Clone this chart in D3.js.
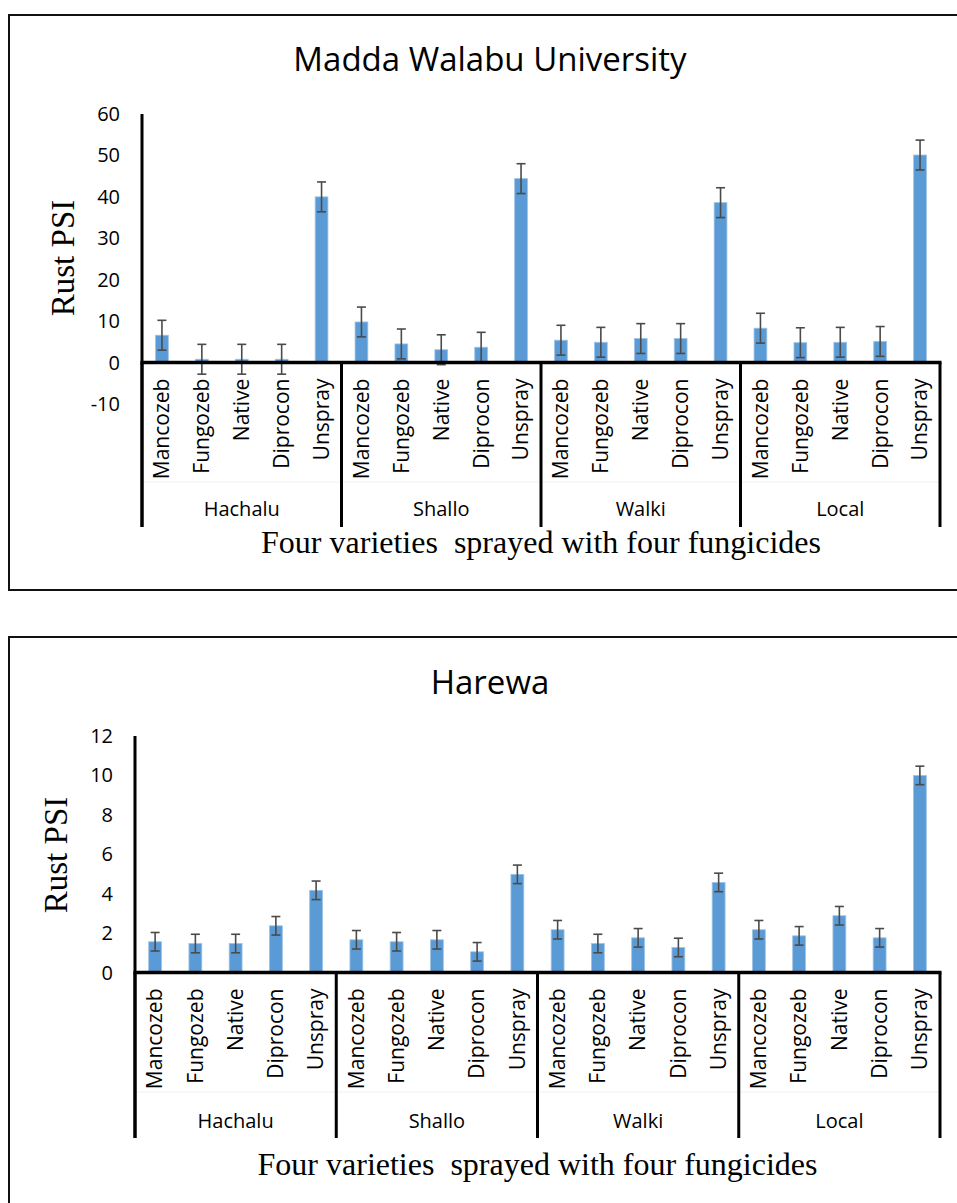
<!DOCTYPE html>
<html>
<head>
<meta charset="utf-8">
<script src="https://cdn.jsdelivr.net/npm/d3@7"></script>
<style>
  body { margin: 0; background: #fff; }
  svg { display: block; }
</style>
</head>
<body>
<script>
// Data
const varieties = ['Hachalu', 'Shallo', 'Walki', 'Local'];
const fungicides = ['Mancozeb', 'Fungozeb', 'Native', 'Diprocon', 'Unspray'];

// Madda Walabu University, one row per variety
const mwuValues = [
    [6.6, 0.8, 0.8, 0.8, 40.0],
    [9.8, 4.5, 3.1, 3.7, 44.4],
    [5.4, 4.9, 5.8, 5.8, 38.6],
    [8.3, 4.8, 4.9, 5.1, 50.1]
];
const mwuErrors = [
    [3.6, 3.6, 3.6, 3.6, 3.6],
    [3.6, 3.6, 3.6, 3.6, 3.6],
    [3.6, 3.6, 3.6, 3.6, 3.6],
    [3.6, 3.6, 3.6, 3.6, 3.6]
];
const mwuTicks = [-10, 0, 10, 20, 30, 40, 50, 60];

// Harewa
const harValues = [
    [1.56, 1.47, 1.47, 2.37, 4.17],
    [1.66, 1.56, 1.66, 1.05, 4.98],
    [2.17, 1.47, 1.76, 1.27, 4.57],
    [2.17, 1.86, 2.88, 1.76, 10.0]
];
const harErrors = [
    [0.47, 0.47, 0.47, 0.47, 0.47],
    [0.47, 0.47, 0.47, 0.47, 0.47],
    [0.47, 0.47, 0.47, 0.47, 0.47],
    [0.47, 0.47, 0.47, 0.47, 0.47]
];
const harTicks = [0, 2, 4, 6, 8, 10, 12];

const xTitle = 'Four varieties  sprayed with four fungicides';
const yTitle = 'Rust PSI';

const W = 957, H = 1203;
const barColor = '#5b9bd5';
const errColor = '#4a4a4a';
const sans = '"Open Sans", sans-serif';
const serif = '"Liberation Serif", "Times New Roman", serif';

const svg = d3.select('body').append('svg')
    .attr('width', W)
    .attr('height', H);

function drawPanel(p) {
    const g = svg.append('g');

    // frame
    g.append('rect')
        .attr('x', p.frame[0]).attr('y', p.frame[1])
        .attr('width', p.frame[2]).attr('height', p.frame[3])
        .attr('fill', 'none')
        .attr('stroke', '#111')
        .attr('stroke-width', 2);

    const rows = [];
    varieties.forEach((v, i) => {
        fungicides.forEach((f, j) => {
            rows.push({ key: v + '|' + f, variety: v, fungicide: f,
                        value: p.values[i][j], err: p.errors[i][j] });
        });
    });

    const x = d3.scaleBand()
        .domain(rows.map(d => d.key))
        .range([p.left, p.right])
        .paddingInner(0.68)
        .paddingOuter(0.34);
    const xg = d3.scaleBand()
        .domain(varieties)
        .range([p.left, p.right]);
    const y = d3.scaleLinear()
        .domain(p.domain)
        .range([p.yBottom, p.yTop]);
    const y0 = y(0);

    // title
    g.append('text')
        .attr('x', 490).attr('y', p.titleY)
        .attr('text-anchor', 'middle')
        .attr('font-family', sans)
        .attr('font-size', 33)
        .attr('fill', '#000')
        .text(p.title);

    // y tick labels
    g.selectAll('.ytick')
        .data(p.ticks)
        .enter().append('text')
        .attr('class', 'ytick')
        .attr('x', p.left - 22)
        .attr('y', d => y(d))
        .attr('dy', '0.35em')
        .attr('text-anchor', 'end')
        .attr('font-family', sans)
        .attr('font-size', 20)
        .attr('fill', '#000')
        .text(d => d);

    // y axis title
    g.append('text')
        .attr('transform', `translate(${p.left - 68}, ${p.yTitleY}) rotate(-90)`)
        .attr('text-anchor', 'middle')
        .attr('font-family', serif)
        .attr('font-size', 33)
        .attr('fill', '#000')
        .text(yTitle);

    // bars
    g.selectAll('.bar')
        .data(rows)
        .enter().append('rect')
        .attr('class', 'bar')
        .attr('x', d => x(d.key))
        .attr('y', d => y(Math.max(0, d.value)))
        .attr('width', x.bandwidth())
        .attr('height', d => Math.abs(y(d.value) - y0))
        .attr('fill', barColor)
        .attr('stroke', '#9dc3e6')
        .attr('stroke-width', 0.8);

    // error bars
    const cx = d => x(d.key) + x.bandwidth() / 2;
    const eb = g.selectAll('.err')
        .data(rows)
        .enter().append('g')
        .attr('class', 'err')
        .attr('stroke', errColor)
        .attr('stroke-width', 1.6);
    eb.append('line')
        .attr('x1', cx).attr('x2', cx)
        .attr('y1', d => y(d.value + d.err))
        .attr('y2', d => y(d.value - d.err));
    [1, -1].forEach(s => {
        eb.append('line')
            .attr('x1', d => cx(d) - 4.5).attr('x2', d => cx(d) + 4.5)
            .attr('y1', d => y(d.value + s * d.err))
            .attr('y2', d => y(d.value + s * d.err));
    });

    // category labels (rotated)
    g.selectAll('.cat')
        .data(rows)
        .enter().append('text')
        .attr('class', 'cat')
        .attr('transform', d => `translate(${cx(d)}, ${y0 + 16}) rotate(-90)`)
        .attr('dy', '0.35em')
        .attr('text-anchor', 'end')
        .attr('font-family', sans)
        .attr('font-size', 21)
        .attr('fill', '#000')
        .text(d => d.fungicide);

    // faint divider between label levels
    g.append('line')
        .attr('x1', p.left).attr('x2', p.right)
        .attr('y1', p.divY).attr('y2', p.divY)
        .attr('stroke', '#f0f0f0')
        .attr('stroke-width', 1);

    // group labels
    g.selectAll('.grp')
        .data(varieties)
        .enter().append('text')
        .attr('class', 'grp')
        .attr('x', d => xg(d) + xg.bandwidth() / 2)
        .attr('y', p.groupY)
        .attr('text-anchor', 'middle')
        .attr('font-family', sans)
        .attr('font-size', 20)
        .attr('fill', '#000')
        .text(d => d);

    // group separators
    const seps = varieties.map(v => xg(v)).concat([p.right]);
    g.selectAll('.sep')
        .data(seps)
        .enter().append('line')
        .attr('class', 'sep')
        .attr('x1', d => d).attr('x2', d => d)
        .attr('y1', y0).attr('y2', p.catBottom)
        .attr('stroke', '#000')
        .attr('stroke-width', 3);

    // y axis line
    g.append('line')
        .attr('x1', p.left).attr('x2', p.left)
        .attr('y1', p.yTop).attr('y2', p.catBottom)
        .attr('stroke', '#000')
        .attr('stroke-width', 3);

    // x axis line at zero
    g.append('line')
        .attr('x1', p.left - 1.5).attr('x2', p.right + 1.5)
        .attr('y1', y0).attr('y2', y0)
        .attr('stroke', '#000')
        .attr('stroke-width', 3.5);

    // x axis title
    g.append('text')
        .attr('x', (p.left + p.right) / 2)
        .attr('y', p.xTitleY)
        .attr('text-anchor', 'middle')
        .attr('font-family', serif)
        .attr('font-size', 32)
        .attr('fill', '#000')
        .style('white-space', 'pre')
        .text(xTitle);
}

drawPanel({
    title: 'Madda Walabu University',
    values: mwuValues, errors: mwuErrors, ticks: mwuTicks,
    domain: [-10, 60],
    frame: [9, 15, 960, 575],
    left: 142, right: 940,
    yTop: 114, yBottom: 404,
    titleY: 71, yTitleY: 258,
    divY: 482, groupY: 516, catBottom: 527, xTitleY: 553
});

drawPanel({
    title: 'Harewa',
    values: harValues, errors: harErrors, ticks: harTicks,
    domain: [0, 12],
    frame: [9, 637, 960, 600],
    left: 135, right: 940,
    yTop: 736, yBottom: 972.5,
    titleY: 694, yTitleY: 855,
    divY: 1092, groupY: 1128, catBottom: 1138, xTitleY: 1175
});
</script>
</body>
</html>
